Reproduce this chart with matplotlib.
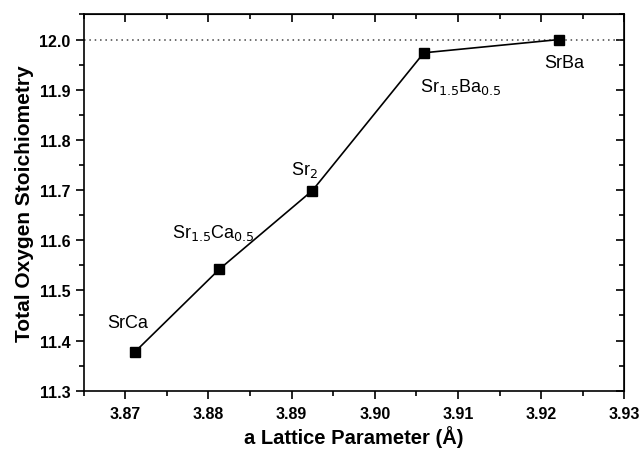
import numpy as np
import matplotlib.pyplot as plt
from matplotlib.ticker import MultipleLocator

plt.rcParams['font.family'] = ['Liberation Sans', 'DejaVu Sans']

# lattice parameter vs oxygen content
a_param = [3.8712, 3.8813, 3.8925, 3.9059, 3.9222]
oxygen = [11.378, 11.542, 11.699, 11.9735, 12.000]
names = ['SrCa', r'Sr$_{1.5}$Ca$_{0.5}$', r'Sr$_{2}$', r'Sr$_{1.5}$Ba$_{0.5}$', 'SrBa']
label_x = [3.8703, 3.8756, 3.8915, 3.9054, 3.9228]
label_y = [11.436, 11.616, 11.742, 11.908, 11.955]
label_ha = ['center', 'left', 'center', 'left', 'center']

fig = plt.figure(figsize=(6.39, 4.52), dpi=100)
ax = fig.add_axes([0.131, 0.1334, 0.846, 0.8336])

ax.axhline(12.0, color='#444444', ls=(0, (1, 2.5)), lw=1.1, zorder=1)
ax.plot(a_param, oxygen, 'k-', lw=1.2, marker='s', ms=7, mfc='k', mec='k', zorder=3)

for x, y, s, ha in zip(label_x, label_y, names, label_ha):
    ax.text(x, y, s, fontsize=13, ha=ha, va='center')

ax.set_xlim(3.865, 3.93)
ax.set_ylim(11.3, 12.051)
ax.xaxis.set_major_locator(MultipleLocator(0.01))
ax.xaxis.set_minor_locator(MultipleLocator(0.005))
ax.yaxis.set_major_locator(MultipleLocator(0.1))
ax.yaxis.set_minor_locator(MultipleLocator(0.05))
ax.xaxis.set_major_formatter(plt.FormatStrFormatter('%.2f'))
ax.yaxis.set_major_formatter(plt.FormatStrFormatter('%.1f'))

ax.tick_params(which='both', direction='out', width=1.2, labelsize=11.5)
ax.tick_params(which='major', length=6)
ax.tick_params(which='minor', length=3.5)
ax.tick_params(axis='x', which='major', pad=5)
for lab in ax.get_xticklabels() + ax.get_yticklabels():
    lab.set_fontweight('bold')

# inward ticks on top and right
ax2 = ax.secondary_xaxis('top')
ax2.xaxis.set_major_locator(MultipleLocator(0.01))
ax2.xaxis.set_minor_locator(MultipleLocator(0.005))
ax2.tick_params(which='both', direction='in', labeltop=False, width=1.2)
ax2.tick_params(which='major', length=6)
ax2.tick_params(which='minor', length=3.5)
ax3 = ax.secondary_yaxis('right')
ax3.yaxis.set_major_locator(MultipleLocator(0.1))
ax3.yaxis.set_minor_locator(MultipleLocator(0.05))
ax3.tick_params(which='both', direction='in', labelright=False, width=1.2)
ax3.tick_params(which='major', length=6)
ax3.tick_params(which='minor', length=3.5)

for sp in ax.spines.values():
    sp.set_linewidth(1.2)

ax.set_xlabel('a Lattice Parameter (Å)', fontsize=14.5, fontweight='bold', labelpad=3)
ax.set_ylabel('Total Oxygen Stoichiometry', fontsize=15, fontweight='bold', labelpad=4)

fig.savefig('out.png', dpi=100)
